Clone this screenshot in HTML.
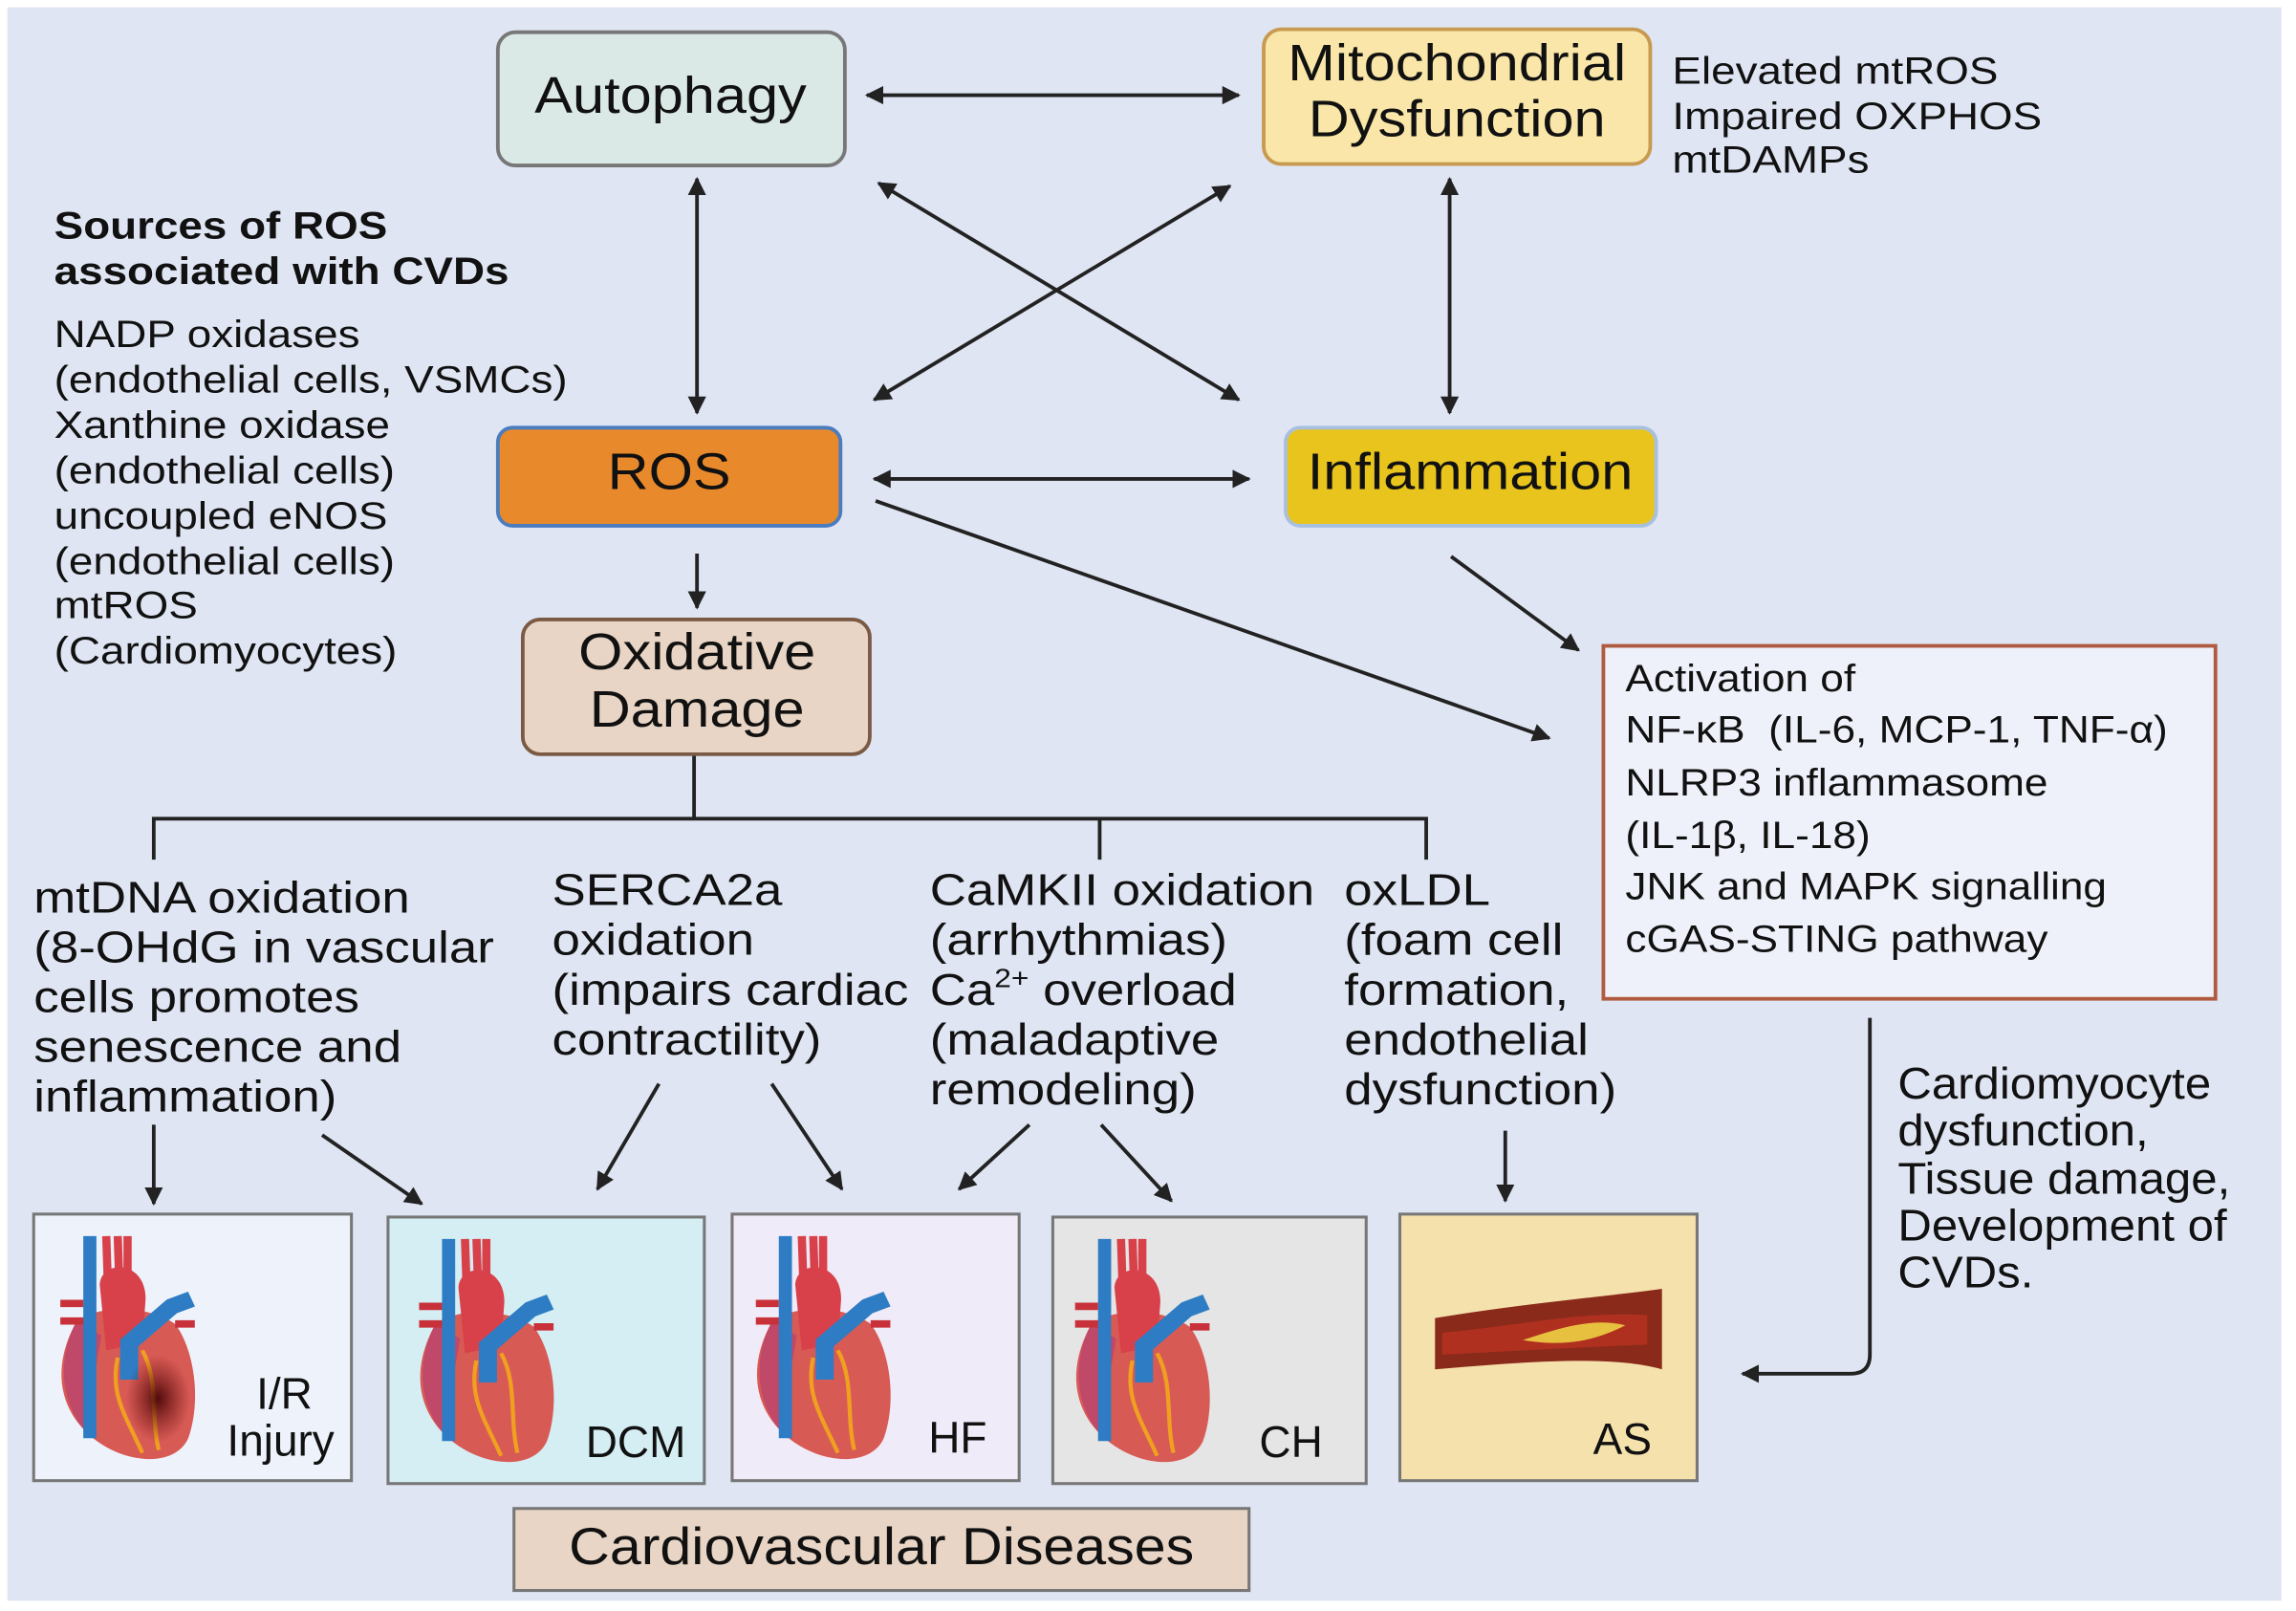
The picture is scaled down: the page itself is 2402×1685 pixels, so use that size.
<!DOCTYPE html>
<html><head><meta charset="utf-8"><style>
html,body{margin:0;padding:0;background:#fff}
svg{display:block}
text{font-family:"Liberation Sans",sans-serif;fill:#111}
.s{transform-box:fill-box;transform-origin:0 0;transform:scaleX(1.15)}
.s2{transform-box:fill-box;transform-origin:0 0;transform:scaleX(1.11)}
.s3{transform-box:fill-box;transform-origin:0 0;transform:scaleX(1.07)}
.c{transform-box:fill-box;transform-origin:50% 50%;transform:scaleX(1.11)}
</style></head><body>
<svg width="2402" height="1685" viewBox="0 0 1568 1100" preserveAspectRatio="none" xmlns="http://www.w3.org/2000/svg">
<defs>
<marker id="a" viewBox="0 0 10 10" refX="9" refY="5" markerWidth="5" markerHeight="5" orient="auto-start-reverse"><path d="M0,0L10,5L0,10z" fill="#222"/></marker>
<radialGradient id="dk"><stop offset="0" stop-color="#4a0808" stop-opacity="0.95"/><stop offset="1" stop-color="#6a1010" stop-opacity="0"/></radialGradient>
<g id="heart">
<path d="M20,60 C5,90 8,120 30,140 C50,158 80,160 88,140 C96,115 92,80 80,62 C65,50 35,48 20,60Z" fill="#d85a55"/>
<path d="M20,60 C8,85 10,115 25,135 L35,70Z" fill="#c04868"/>
<path d="M28,2 L28,140" stroke="#2d7cc4" stroke-width="8"/>
<path d="M38,2 L39,35 M45,2 L46,35 M51,2 L51,35" stroke="#d8404a" stroke-width="5"/>
<path d="M34,35 C35,18 62,18 62,45 L60,75 L38,80Z" fill="#d8404a"/>
<path d="M52,100 L52,75 L78,50 L90,45" stroke="#2d7cc4" stroke-width="11" fill="none"/>
<path d="M10,48h14M10,60h14M80,62h12" stroke="#c8303a" stroke-width="5"/>
<path d="M45,85 C40,110 50,125 60,150 M60,80 C70,100 65,125 70,148" stroke="#f0a020" stroke-width="2.5" fill="none"/>
</g>
</defs>
<rect x="0" y="0" width="1568" height="1100" fill="#fff"/>
<rect x="5" y="5" width="1553" height="1088" fill="#dfe5f2"/>

<g stroke="#222" stroke-width="2.5" fill="none">
<line x1="592" y1="65" x2="846" y2="65" marker-start="url(#a)" marker-end="url(#a)"/>
<line x1="476" y1="122" x2="476" y2="282" marker-start="url(#a)" marker-end="url(#a)"/>
<line x1="990" y1="122" x2="990" y2="282" marker-start="url(#a)" marker-end="url(#a)"/>
<line x1="600" y1="125" x2="846" y2="273" marker-start="url(#a)" marker-end="url(#a)"/>
<line x1="840" y1="127" x2="597" y2="273" marker-start="url(#a)" marker-end="url(#a)"/>
<line x1="597" y1="327" x2="853" y2="327" marker-start="url(#a)" marker-end="url(#a)"/>
<line x1="476" y1="378" x2="476" y2="415" marker-end="url(#a)"/>
<line x1="598" y1="342" x2="1058" y2="504" marker-end="url(#a)"/>
<line x1="991" y1="380" x2="1078" y2="444" marker-end="url(#a)"/>
<path d="M474,515V559M105,587V559H974V587M751,559V587"/>
<line x1="105" y1="768" x2="105" y2="822" marker-end="url(#a)"/>
<line x1="220" y1="775" x2="288" y2="822" marker-end="url(#a)"/>
<line x1="450" y1="740" x2="408" y2="812" marker-end="url(#a)"/>
<line x1="527" y1="740" x2="575" y2="812" marker-end="url(#a)"/>
<line x1="703" y1="768" x2="655" y2="812" marker-end="url(#a)"/>
<line x1="752" y1="768" x2="800" y2="820" marker-end="url(#a)"/>
<line x1="1028" y1="772" x2="1028" y2="820" marker-end="url(#a)"/>
<path d="M1277,695V925Q1277,938 1264,938H1190" marker-end="url(#a)"/>
</g>

<rect x="340" y="22" width="237" height="91" rx="12" fill="#dbe9e6" stroke="#777" stroke-width="2.5"/>
<text class="c" x="458" y="77" font-size="35" text-anchor="middle">Autophagy</text>
<rect x="863" y="20" width="264" height="92" rx="12" fill="#f9e6a8" stroke="#c89a50" stroke-width="2.5"/>
<text class="c" x="995" y="55" font-size="35" text-anchor="middle">Mitochondrial</text>
<text class="c" x="995" y="93" font-size="35" text-anchor="middle">Dysfunction</text>
<g font-size="26"><text class="s" x="1142" y="57">Elevated mtROS</text><text class="s" x="1142" y="88">Impaired OXPHOS</text><text class="s" x="1142" y="118">mtDAMPs</text></g>

<g font-size="26"><text class="s" x="37" y="163" font-weight="bold">Sources of ROS</text><text class="s" x="37" y="194" font-weight="bold">associated with CVDs</text>
<text class="s" x="37" y="237">NADP oxidases</text><text class="s" x="37" y="268">(endothelial cells, VSMCs)</text><text class="s" x="37" y="299">Xanthine oxidase</text><text class="s" x="37" y="330">(endothelial cells)</text><text class="s" x="37" y="361">uncoupled eNOS</text><text class="s" x="37" y="392">(endothelial cells)</text><text class="s" x="37" y="422">mtROS</text><text class="s" x="37" y="453">(Cardiomyocytes)</text></g>

<rect x="340" y="292" width="234" height="67" rx="10" fill="#e8892c" stroke="#4a7cc0" stroke-width="2.5"/>
<text class="c" x="457" y="334" font-size="35" text-anchor="middle">ROS</text>
<rect x="878" y="292" width="253" height="67" rx="10" fill="#e8c41c" stroke="#a8c0e0" stroke-width="2.5"/>
<text class="c" x="1004" y="334" font-size="35" text-anchor="middle">Inflammation</text>
<rect x="357" y="423" width="237" height="92" rx="12" fill="#e8d5c5" stroke="#7a5a45" stroke-width="2.5"/>
<text class="c" x="476" y="457" font-size="35" text-anchor="middle">Oxidative</text>
<text class="c" x="476" y="496" font-size="35" text-anchor="middle">Damage</text>

<rect x="1095" y="441" width="418" height="241" fill="#eef1f9" stroke="#b05a40" stroke-width="2.5"/>
<g font-size="26"><text class="s2" x="1110" y="472">Activation of</text><text class="s2" x="1110" y="507" xml:space="preserve">NF-κB  (IL-6, MCP-1, TNF-α)</text><text class="s2" x="1110" y="543">NLRP3 inflammasome</text><text class="s2" x="1110" y="579">(IL-1β, IL-18)</text><text class="s2" x="1110" y="614">JNK and MAPK signalling</text><text class="s2" x="1110" y="650">cGAS-STING pathway</text></g>

<g font-size="30"><text class="s" x="23" y="623">mtDNA oxidation</text><text class="s" x="23" y="657">(8-OHdG in vascular</text><text class="s" x="23" y="691">cells promotes</text><text class="s" x="23" y="725">senescence and</text><text class="s" x="23" y="759">inflammation)</text>
<text class="s" x="377" y="618">SERCA2a</text><text class="s" x="377" y="652">oxidation</text><text class="s" x="377" y="686">(impairs cardiac</text><text class="s" x="377" y="720">contractility)</text>
<text class="s" x="635" y="618">CaMKII oxidation</text><text class="s" x="635" y="652">(arrhythmias)</text><text class="s" x="635" y="686">Ca<tspan font-size="18" dy="-12">2+</tspan><tspan dy="12"> overload</tspan></text><text class="s" x="635" y="720">(maladaptive</text><text class="s" x="635" y="754">remodeling)</text>
<text class="s" x="918" y="618">oxLDL</text><text class="s" x="918" y="652">(foam cell</text><text class="s" x="918" y="686">formation,</text><text class="s" x="918" y="720">endothelial</text><text class="s" x="918" y="754">dysfunction)</text>
<text class="s3" x="1296" y="750">Cardiomyocyte</text><text class="s3" x="1296" y="782">dysfunction,</text><text class="s3" x="1296" y="815">Tissue damage,</text><text class="s3" x="1296" y="847">Development of</text><text class="s3" x="1296" y="879">CVDs.</text></g>

<rect x="23" y="829" width="217" height="182" fill="#eef3fb" stroke="#777" stroke-width="2"/>
<rect x="265" y="831" width="216" height="182" fill="#d5eef3" stroke="#777" stroke-width="2"/>
<rect x="500" y="829" width="196" height="182" fill="#f0ebf8" stroke="#777" stroke-width="2"/>
<rect x="719" y="831" width="214" height="182" fill="#e5e5e5" stroke="#777" stroke-width="2"/>
<rect x="956" y="829" width="203" height="182" fill="#f4e1ac" stroke="#777" stroke-width="2"/>
<use href="#heart" transform="translate(30,842) scale(1.12,1.0)"/>
<ellipse cx="108" cy="955" rx="22" ry="30" fill="url(#dk)"/>
<use href="#heart" transform="translate(275,844) scale(1.12,1.0)"/>
<use href="#heart" transform="translate(505,842) scale(1.12,1.0)"/>
<use href="#heart" transform="translate(723,844) scale(1.12,1.0)"/>
<path d="M980,900 C1040,890 1100,885 1135,880 L1135,935 C1100,925 1040,930 980,935Z" fill="#8a2a1a"/>
<path d="M985,910 C1040,905 1080,895 1125,898 L1125,918 C1080,920 1040,922 985,925Z" fill="#b03020"/>
<path d="M1040,915 C1070,905 1090,900 1110,905 C1090,915 1070,920 1040,915Z" fill="#e8c040"/>
<g font-size="30"><text x="175" y="962">I/R</text><text x="155" y="994">Injury</text><text x="400" y="995">DCM</text><text x="634" y="992">HF</text><text x="860" y="995">CH</text><text x="1088" y="993">AS</text></g>

<rect x="351" y="1030" width="502" height="56" fill="#e8d5c5" stroke="#777" stroke-width="2"/>
<text x="602" y="1068" font-size="36" text-anchor="middle" textLength="427" lengthAdjust="spacingAndGlyphs">Cardiovascular Diseases</text>
</svg>
</body></html>
